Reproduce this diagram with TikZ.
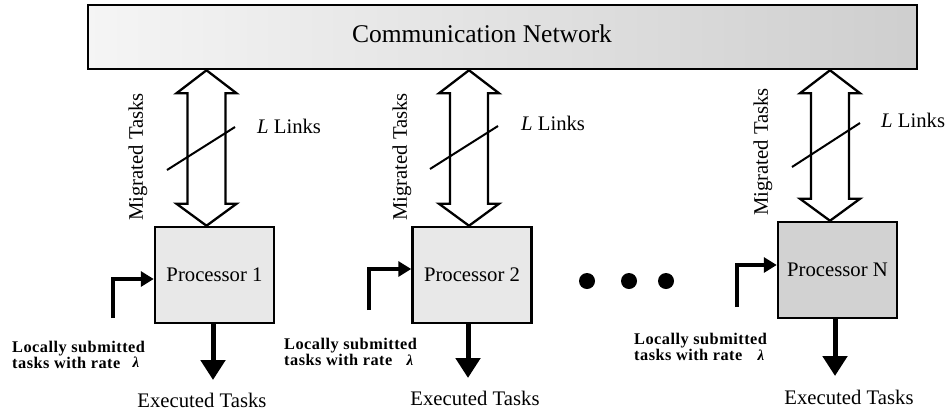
\documentclass[tikz,border=0pt]{standalone}
\usepackage{fontspec}
\setmainfont{Liberation Serif}
\newfontfamily\lsfont[LetterSpace=3]{Liberation Serif}
\usetikzlibrary{arrows.meta,calc}
\tikzset{
 netbox/.style={draw, line width=2.5pt, shade, left color=gray!8, right color=gray!38, minimum width=829pt, minimum height=64pt, inner sep=0},
 procbox/.style={draw, line width=2.5pt, fill=gray!18, minimum width=119pt, minimum height=96pt, inner sep=0, font=\fontsize{20.7}{24}\selectfont},
 lbl/.style={inner sep=0, font=\fontsize{20.7}{24}\selectfont},
 smalltxt/.style={inner sep=0, align=left, anchor=north west, font=\lsfont\bfseries\fontsize{16.3}{15.5}\selectfont},
 lam/.style={inner sep=0, font=\bfseries\itshape\fontsize{15}{16}\selectfont},
 dblarr/.style={draw, fill=white, line width=2.3pt, line join=miter},
 inarr/.style={line width=4pt, -{Triangle[length=13pt,width=15pt]}},
 outarr/.style={line width=5pt, -{Triangle[length=20pt,width=24pt]}},
 slashline/.style={line width=2pt},
 dotnode/.style={circle, fill, inner sep=0, minimum size=16pt}
}
\newcommand\dblarrow[2]{%
 \draw[dblarr] (#1) -- ($(#1)+(30,23)$) -- ($(#1)+(19,23)$) -- ($(#2)+(19,-22)$) -- ($(#2)+(30,-22)$) -- (#2)
  -- ($(#2)+(-30,-22)$) -- ($(#2)+(-19,-22)$) -- ($(#1)+(-19,23)$) -- ($(#1)+(-30,23)$) -- cycle;}
\begin{document}
\begin{tikzpicture}[x=1pt,y=-1pt]
\useasboundingbox (0,0) rectangle (952,413);
% network
\node[netbox] (net) at (502.5,37) {};
\node[lbl, font=\fontsize{25.5}{30}\selectfont] (netlabel) at (482,34) {Communication Network};
% processors
\node[procbox] (p1) at (214.5,275) {Processor 1};
\node[procbox] (p2) at (472,275) {Processor 2};
\node[procbox, fill=gray!35] (pn) at (837.5,270) {Processor N};
% double arrows
\coordinate (x1) at (206.5,0);
\coordinate (x2) at (469,0);
\coordinate (x3) at (830,0);
\coordinate (t1) at (x1 |- net.south);
\coordinate (b1) at (x1 |- p1.north);
\coordinate (t2) at (x2 |- net.south);
\coordinate (b2) at (x2 |- p2.north);
\coordinate (t3) at (x3 |- net.south);
\coordinate (b3) at (x3 |- pn.north);
\dblarrow{t1}{b1}
\dblarrow{t2}{b2}
\dblarrow{t3}{b3}
% slashes
\draw[slashline] (167,170) -- (235,127);
\draw[slashline] (430,169) -- (498,126);
\draw[slashline] (792,167) -- (860,123);
% labels
\node[lbl, rotate=90] (m1) at (138,157) {Migrated Tasks};
\node[lbl, rotate=90] (m2) at (402,157) {Migrated Tasks};
\node[lbl, rotate=90] (m3) at (763,152) {Migrated Tasks};
\node[lbl, anchor=west] (l1) at (257,126) {\textit{L} Links};
\node[lbl, anchor=west] (l2) at (521,123) {\textit{L} Links};
\node[lbl, anchor=west] (l3) at (881,120) {\textit{L} Links};
% input arrows
\coordinate (s1) at (113,318);
\coordinate (s2) at (369,310);
\coordinate (s3) at (737,307);
\draw[inarr] (s1) |- ($(p1.west)+(0,4)$);
\draw[inarr] (s2) |- ($(p2.west)+(0,-6)$);
\draw[inarr] (s3) |- ($(pn.west)+(0,-5)$);
% output arrows
\coordinate (e1) at (213,380);
\coordinate (e2) at (468,378);
\coordinate (e3) at (835,376);
\draw[outarr] (p1.south -| e1) -- (e1);
\draw[outarr] (p2.south -| e2) -- (e2);
\draw[outarr] (pn.south -| e3) -- (e3);
\node[lbl] (ex1) at (202,400) {Executed Tasks};
\node[lbl] (ex2) at (475,398) {Executed Tasks};
\node[lbl] (ex3) at (849,397) {Executed Tasks};
% locally submitted
\node[smalltxt] (loc1) at (12,341) {Locally submitted\\tasks with rate};
\node[smalltxt] (loc2) at (284,338) {Locally submitted\\tasks with rate};
\node[smalltxt] (loc3) at (634,333) {Locally submitted\\tasks with rate};
\node[lam] (lam1) at (136,362) {λ};
\node[lam] (lam2) at (410,360) {λ};
\node[lam] (lam3) at (761,355) {λ};
% dots
\node[dotnode] (d1) at (587,281) {};
\node[dotnode] (d2) at (629,281) {};
\node[dotnode] (d3) at (666,281) {};
\end{tikzpicture}
\end{document}
